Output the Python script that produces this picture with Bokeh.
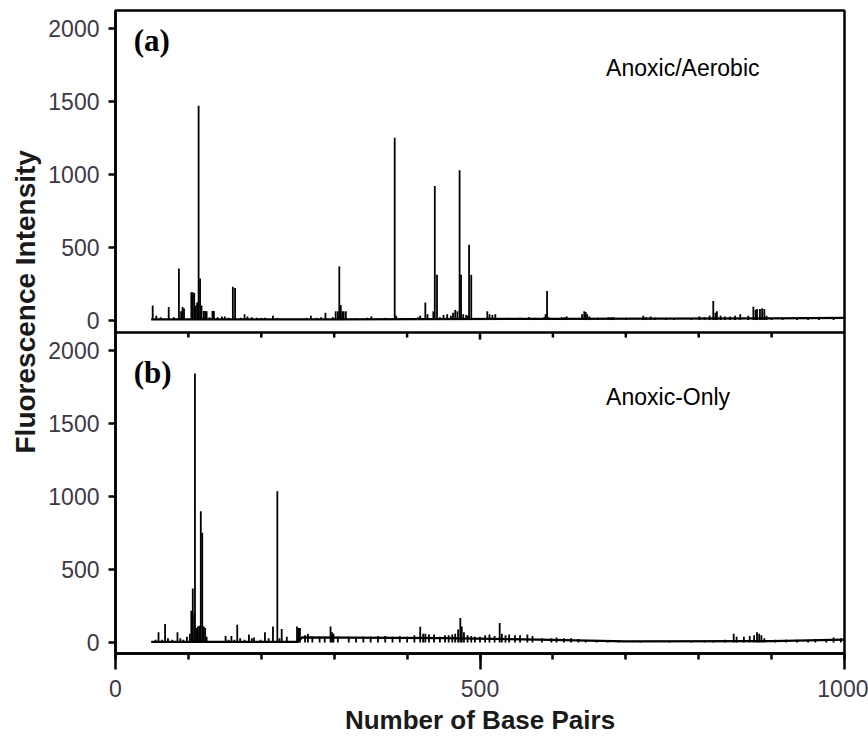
from bokeh.plotting import figure
from bokeh.models import Range1d, FixedTicker, Span, Label, Title
from bokeh.embed import file_html
from bokeh.resources import INLINE

# ---- (a) Anoxic/Aerobic electropherogram: peak positions (bp) and heights ----
bp_a = [51, 56, 62, 73, 80, 87, 90, 92, 94, 104, 106, 108, 110, 112, 114, 116, 118,
        121, 123, 125, 129, 133, 135, 140, 146, 150, 155, 161, 164, 172, 177, 181,
        187, 194, 200, 205, 216, 222, 240, 262, 268, 276, 282, 288, 298, 302, 305,
        307, 309, 311, 313, 316, 330, 345, 351, 370, 383, 385, 400, 415, 418, 425,
        428, 436, 438, 441, 445, 450, 455, 460, 463, 466, 469, 472, 474, 477, 481,
        483, 485, 488, 492, 510, 513, 517, 521, 540, 555, 567, 575, 588, 590, 592,
        594, 612, 616, 619, 640, 643, 645, 647, 650, 662, 676, 680, 683, 700, 724,
        728, 734, 740, 755, 766, 790, 801, 808, 815, 820, 823, 825, 830, 836, 843,
        850, 857, 868, 875, 878, 880, 884, 887, 890, 893, 900, 915, 935, 950, 965, 985]
rfu_a = [100, 30, 20, 90, 20, 354, 60, 90, 80, 190, 190, 185, 100, 120, 1469, 285, 100,
         62, 62, 60, 20, 62, 62, 20, 25, 25, 15, 228, 220, 15, 40, 25,
         20, 15, 15, 15, 30, 15, 10, 15, 30, 15, 20, 50, 20, 60, 60,
         368, 103, 60, 60, 60, 10, 15, 25, 15, 1250, 30, 10, 20, 30, 120,
         40, 60, 920, 310, 20, 35, 40, 30, 50, 70, 60, 1028, 310, 40, 35,
         30, 517, 310, 10, 60, 40, 35, 40, 15, 15, 20, 15, 20, 40, 200,
         20, 20, 20, 25, 40, 60, 55, 40, 25, 15, 20, 20, 20, 15, 30,
         20, 25, 15, 15, 10, 15, 25, 20, 30, 131, 50, 60, 30, 25, 25,
         30, 40, 30, 92, 70, 75, 75, 80, 75, 30, 15, 15, 15, 15, 15, 15]
base_bp_a = [49, 300, 600, 900, 1000]
base_rfu_a = [5, 5, 8, 12, 15]

# ---- (b) Anoxic-Only electropherogram ----
bp_b = [55, 59, 64, 68, 72, 78, 85, 89, 93, 98, 102, 104, 106, 108, 109, 111, 113, 115,
        117, 119, 121, 123, 125, 140, 151, 155, 159, 163, 167, 171, 177, 183, 187,
        190, 199, 205, 210, 216, 222, 225, 228, 235, 249, 251, 253, 260, 264, 270,
        280, 287, 295, 297, 299, 305, 320, 330, 340, 350, 360, 370, 380, 390, 400,
        410, 418, 422, 425, 430, 437, 445, 452, 457, 462, 466, 470, 473, 475, 478,
        483, 488, 493, 500, 507, 513, 520, 527, 530, 535, 540, 548, 555, 565, 572,
        585, 598, 605, 615, 625, 635, 645, 660, 675, 690, 720, 760, 790, 808, 820,
        836, 848, 852, 862, 870, 876, 880, 883, 886, 890, 905, 920, 935, 950, 960,
        975, 985, 995]
rfu_b = [20, 70, 20, 128, 30, 20, 70, 30, 20, 40, 60, 218, 371, 200, 1845, 100, 110, 116,
         901, 753, 110, 100, 40, 10, 45, 20, 45, 20, 123, 30, 20, 55, 30,
         35, 20, 70, 30, 111, 1038, 30, 93, 40, 110, 100, 100, 50, 60, 40,
         40, 40, 110, 70, 60, 40, 40, 35, 40, 40, 45, 45, 40, 45, 40,
         50, 109, 60, 60, 55, 55, 40, 50, 50, 55, 60, 90, 168, 110, 70,
         50, 45, 40, 40, 50, 55, 45, 134, 60, 50, 55, 50, 50, 55, 45,
         30, 30, 35, 30, 30, 25, 15, 15, 15, 15, 10, 10, 10, 15, 15,
         20, 60, 40, 40, 45, 50, 70, 60, 50, 30, 20, 20, 20, 20, 25,
         25, 35, 30]
base_bp_b = [49, 250, 256, 450, 580, 700, 900, 1000]
base_rfu_b = [5, 5, 35, 30, 20, 8, 10, 20]

x_major = [0, 500, 1000]
x_minor = [0, 100, 200, 300, 400, 500, 600, 700, 800, 900, 1000]
y_ticks = [0, 500, 1000, 1500, 2000]

# The two panels share one frame: panel (a) is lifted by OFFSET intensity units,
# and SEP marks the boundary line between them.
OFFSET = 2212
SEP = 2126
Y_LO, Y_HI = -75, 4335

W, H = 868, 742
FRAME_LEFT, FRAME_TOP, FRAME_W, FRAME_H = 115, 10, 729, 643
px_per_unit = FRAME_H / (Y_HI - Y_LO)

p = figure(width=W, height=H, output_backend="svg", toolbar_location=None,
           x_range=Range1d(0, 1000), y_range=Range1d(Y_LO, Y_HI),
           min_border_left=FRAME_LEFT, min_border_right=W - FRAME_LEFT - FRAME_W,
           min_border_top=FRAME_TOP, min_border_bottom=H - FRAME_TOP - FRAME_H)
p.background_fill_color = "white"
p.border_fill_color = "white"
p.xgrid.visible = False
p.ygrid.visible = False
p.outline_line_color = "black"
p.outline_line_width = 2.5

# traces: baseline plus vertical peaks
p.line(base_bp_a, [v + OFFSET for v in base_rfu_a], line_color="black", line_width=2.2)
p.segment(x0=bp_a, y0=[OFFSET] * len(bp_a), x1=bp_a, y1=[v + OFFSET for v in rfu_a],
          line_color="black", line_width=1.8)
p.line(base_bp_b, base_rfu_b, line_color="black", line_width=2.2)
p.segment(x0=bp_b, y0=[0] * len(bp_b), x1=bp_b, y1=rfu_b,
          line_color="black", line_width=1.8)

# boundary between panels with the upper panel's outward x ticks
p.add_layout(Span(location=SEP, dimension="width", line_color="black", line_width=2.5))
inner = x_minor[1:-1]
tick_len = [(7 if t in x_major else 5) / px_per_unit for t in inner]
p.segment(x0=inner, y0=[SEP] * len(inner), x1=inner, y1=[SEP - d for d in tick_len],
          line_color="black", line_width=2.5)

# axes
tick_color = "#3d3846"
p.xaxis.ticker = FixedTicker(ticks=x_major, minor_ticks=x_minor)
p.xaxis.major_label_text_font = "Liberation Sans"
p.xaxis.major_label_text_font_size = "23px"
p.xaxis.major_label_text_color = tick_color
p.xaxis.major_label_standoff = 10
p.xaxis.major_tick_out = 16
p.xaxis.major_tick_in = 0
p.xaxis.minor_tick_out = 6
p.xaxis.minor_tick_in = 0
p.xaxis.major_tick_line_width = 2.5
p.xaxis.minor_tick_line_width = 2.5
p.xaxis.axis_line_width = 2.5

p.yaxis.ticker = FixedTicker(ticks=y_ticks + [t + OFFSET for t in y_ticks], minor_ticks=[])
labels = {t: str(t) for t in y_ticks}
labels.update({t + OFFSET: str(t) for t in y_ticks})
p.yaxis.major_label_overrides = labels
p.yaxis.major_label_text_font = "Liberation Sans"
p.yaxis.major_label_text_font_size = "23px"
p.yaxis.major_label_text_color = tick_color
p.yaxis.major_label_standoff = 9
p.yaxis.major_tick_out = 7
p.yaxis.major_tick_in = 0
p.yaxis.major_tick_line_width = 2.5
p.yaxis.minor_tick_line_color = None
p.yaxis.axis_line_width = 2.5

# axis titles as side panels
title_color = "#1a1a1a"
p.add_layout(Title(text="Fluorescence Intensity", align="left", offset=200,
                   standoff=10, text_font="Liberation Sans", text_font_style="bold",
                   text_font_size="28px", text_color=title_color), "left")
p.add_layout(Title(text="Number of Base Pairs", align="center", standoff=6,
                   text_font="Liberation Sans", text_font_style="bold",
                   text_font_size="26px", text_color=title_color), "below")

# panel annotations
for txt, y in [("(a)", 1920 + OFFSET), ("(b)", 1852)]:
    p.add_layout(Label(x=25, y=y, text=txt, text_font="Liberation Serif",
                       text_font_style="bold", text_font_size="31px",
                       text_color="black", text_baseline="alphabetic"))
for txt, y in [("Anoxic/Aerobic", 1732 + OFFSET), ("Anoxic-Only", 1684)]:
    p.add_layout(Label(x=673, y=y, text=txt, text_font="Liberation Sans",
                       text_font_size="23px", text_color="black",
                       text_baseline="alphabetic"))

open("out.html", "w").write(file_html(p, INLINE))
